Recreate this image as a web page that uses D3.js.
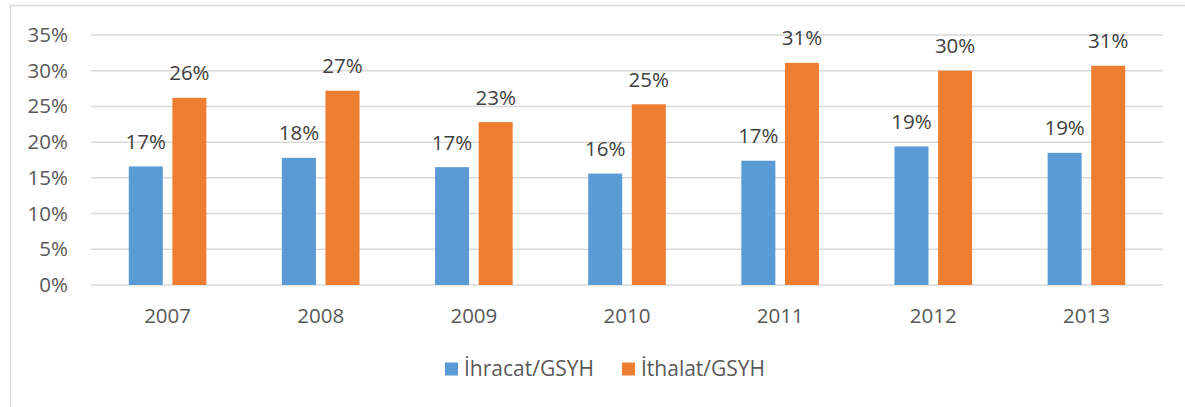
<!DOCTYPE html>
<html>
<head>
<meta charset="utf-8">
<script src="https://cdn.jsdelivr.net/npm/d3@7"></script>
<style>
  body { margin: 0; background: #fff; }
  text { font-family: "Open Sans", sans-serif; }
</style>
</head>
<body>
<div id="chart"></div>
<script>
var years = ["2007", "2008", "2009", "2010", "2011", "2012", "2013"];
var seriesNames = ["İhracat/GSYH", "İthalat/GSYH"];
var ihracat = [16.6, 17.8, 16.5, 15.6, 17.4, 19.4, 18.5];
var ithalat = [26.2, 27.2, 22.8, 25.3, 31.1, 30.0, 30.7];
var yTicks = [0, 5, 10, 15, 20, 25, 30, 35];
var colors = ["#5B9BD5", "#ED7D31"];

var width = 1185;
var height = 407;
var svg = d3.select("#chart")
    .append("svg")
    .attr("width", width)
    .attr("height", height);

// chart frame
svg.append("rect")
    .attr("x", 10.5)
    .attr("y", 5.5)
    .attr("width", 1200)
    .attr("height", 420)
    .attr("fill", "none")
    .attr("stroke", "#D9D9D9")
    .attr("stroke-width", 1.5);

var margin = {top: 35, right: 22, bottom: 122, left: 91};

var x = d3.scaleBand().domain(years).range([margin.left, width - margin.right]);
var y = d3.scaleLinear().domain([0, 35]).range([height - margin.bottom, margin.top]);

// gridlines
svg.append("g")
    .selectAll("line")
    .data(yTicks)
    .enter().append("line")
    .attr("x1", margin.left)
    .attr("x2", width - margin.right)
    .attr("y1", function(d) { return y(d); })
    .attr("y2", function(d) { return y(d); })
    .attr("stroke", "#D9D9D9")
    .attr("stroke-width", 1.5);

// y axis labels
var yAxis = svg.append("g")
    .attr("transform", "translate(" + 68 + ",0)")
    .call(d3.axisLeft(y).tickValues(yTicks).tickSize(0).tickPadding(0)
        .tickFormat(function(d) { return d + "%"; }));
yAxis.select(".domain").remove();
yAxis.selectAll("text")
    .attr("fill", "#595959")
    .style("font-size", "20.5px")
    .style("font-family", "'Open Sans', sans-serif");

// x axis labels
var xAxis = svg.append("g")
    .attr("transform", "translate(0," + y(0) + ")")
    .call(d3.axisBottom(x).tickSize(0).tickPadding(23));
xAxis.select(".domain").remove();
xAxis.selectAll("text")
    .attr("fill", "#595959")
    .style("font-size", "20.5px")
    .style("font-family", "'Open Sans', sans-serif");

var barW = 34, gap = 9.6;
var series = [ihracat, ithalat];

series.forEach(function(vals, si) {
  var off = si === 0 ? -(gap / 2 + barW) : gap / 2;
  svg.append("g")
    .selectAll("rect")
    .data(vals)
    .enter().append("rect")
    .attr("x", function(d, i) { return x(years[i]) + x.bandwidth() / 2 + off; })
    .attr("y", function(d) { return y(d); })
    .attr("width", barW)
    .attr("height", function(d) { return y(0) - y(d); })
    .attr("fill", colors[si]);

  svg.append("g")
    .selectAll("text")
    .data(vals)
    .enter().append("text")
    .attr("x", function(d, i) { return x(years[i]) + x.bandwidth() / 2 + off + barW / 2; })
    .attr("y", function(d) { return y(d) - 17.5; })
    .attr("text-anchor", "middle")
    .attr("fill", "#404040")
    .style("font-size", "20.5px")
    .text(function(d) { return Math.round(d) + "%"; });
});

// legend
var legendX = [445, 622];
seriesNames.forEach(function(name, i) {
  svg.append("rect")
    .attr("x", legendX[i])
    .attr("y", 362.5)
    .attr("width", 13)
    .attr("height", 13)
    .attr("fill", colors[i]);
  svg.append("text")
    .attr("x", legendX[i] + 19)
    .attr("y", 376)
    .attr("fill", "#595959")
    .style("font-size", "21px")
    .text(name);
});
</script>
</body>
</html>
